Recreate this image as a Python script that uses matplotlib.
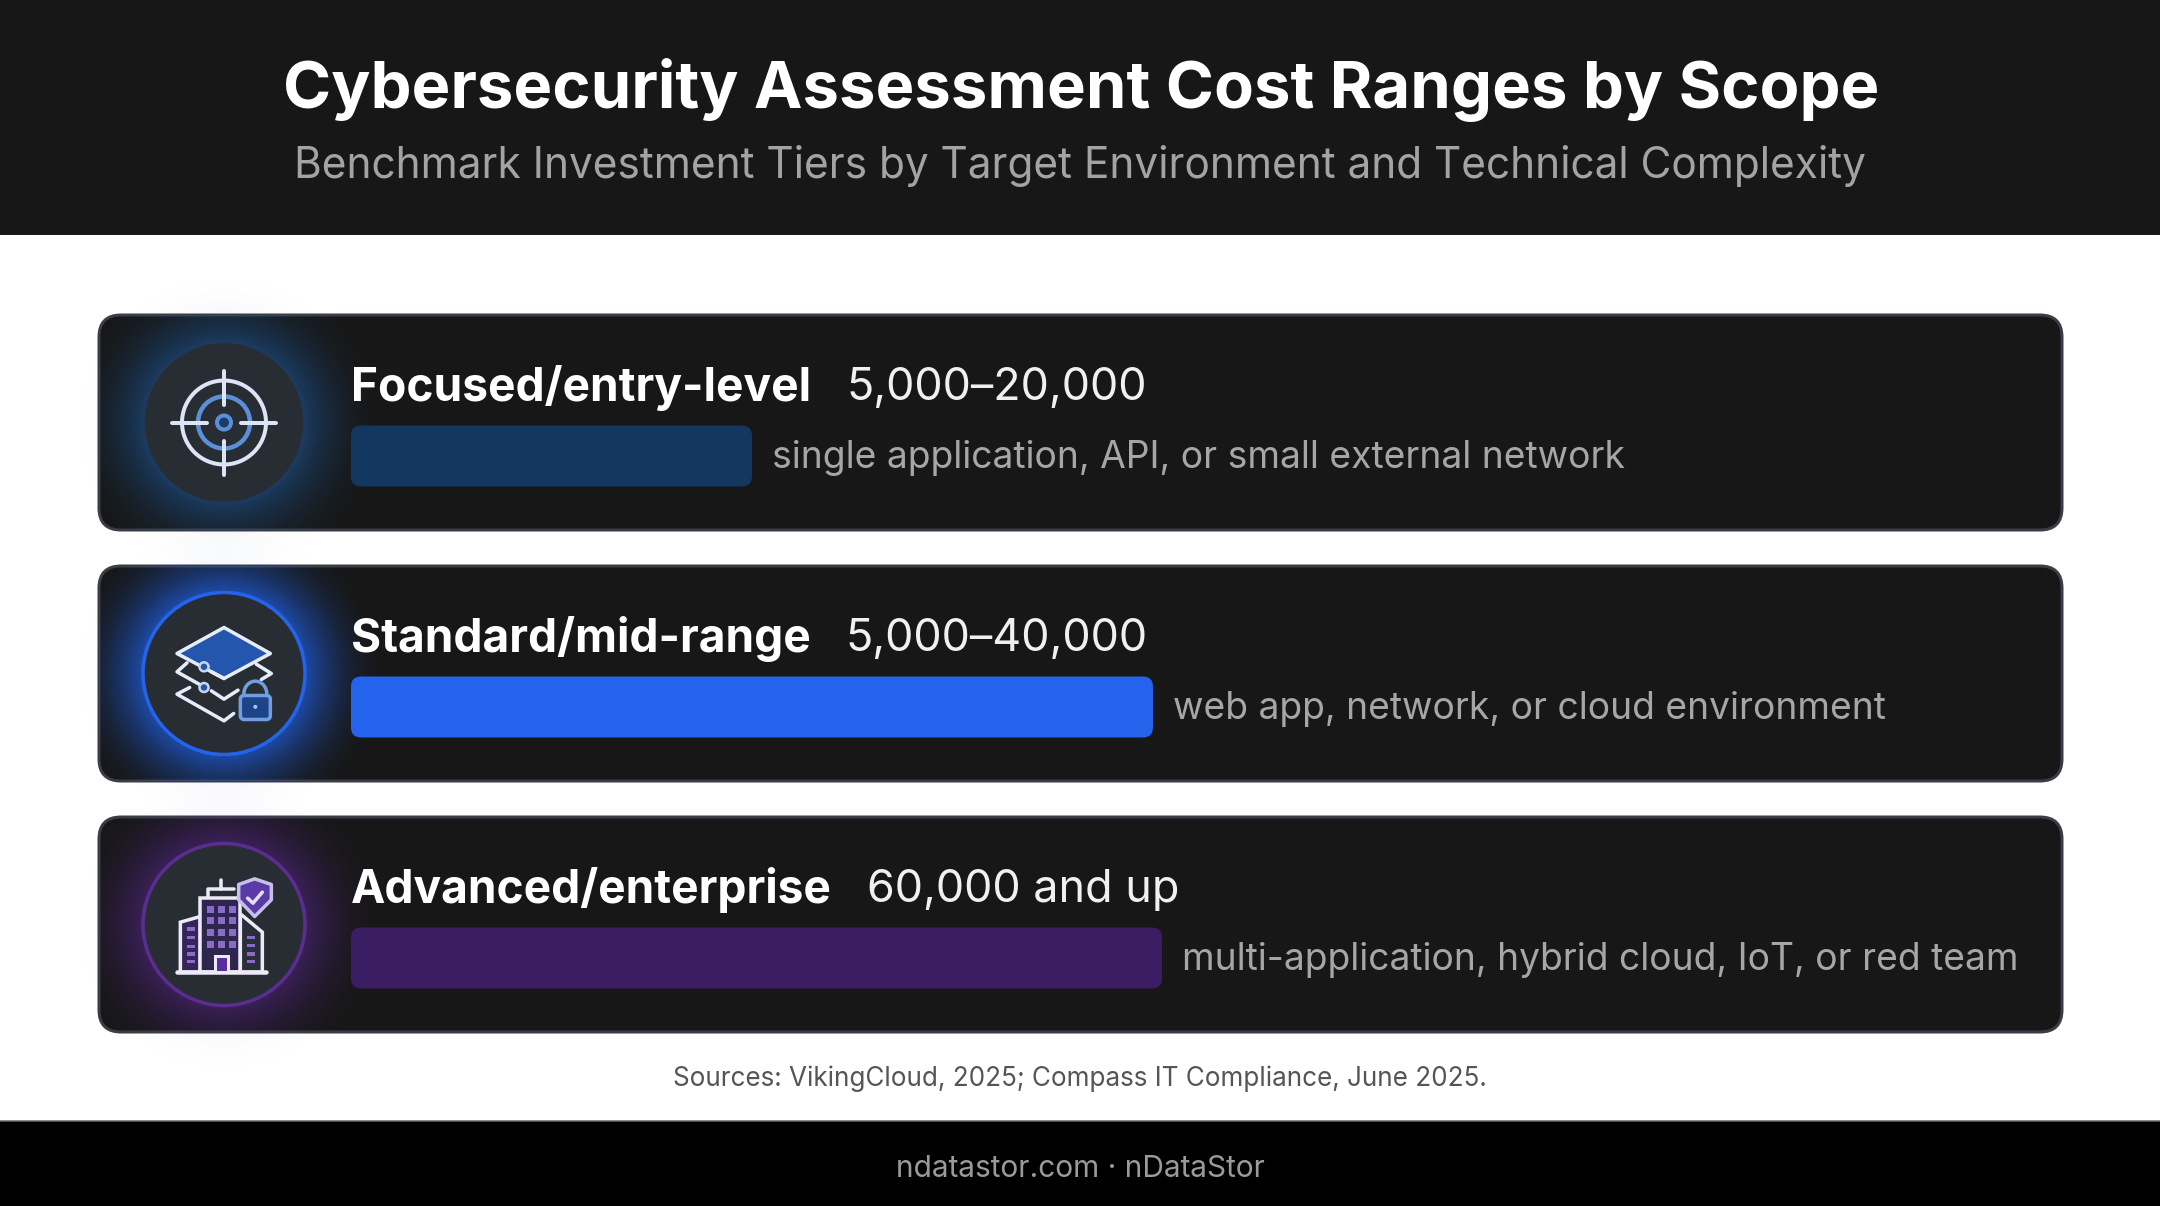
import numpy as np
import matplotlib
matplotlib.use("Agg")
import matplotlib.pyplot as plt
from matplotlib.patches import FancyBboxPatch, Circle, Rectangle, Polygon, Arc
from matplotlib.colors import to_rgb

plt.rcParams['font.family'] = ['Inter', 'DejaVu Sans']

TITLE = "Cybersecurity Assessment Cost Ranges by Scope"
SUBTITLE = "Benchmark Investment Tiers by Target Environment and Technical Complexity"
SOURCES = "Sources: VikingCloud, 2025; Compass IT Compliance, June 2025."
FOOTER = "ndatastor.com · nDataStor"

tiers = ["Focused/entry-level", "Standard/mid-range", "Advanced/enterprise"]
ranges = ["5,000–20,000", "5,000–40,000", "60,000 and up"]
scopes = ["single application, API, or small external network",
          "web app, network, or cloud environment",
          "multi-application, hybrid cloud, IoT, or red team"]
# upper ends of the bars. The third one is open ended, the picture stops it just past 40k
bar_ends = [20000, 40000, 40450]
bar_colors = ["#14375f", "#2463eb", "#3b1d63"]

ring_colors = ["#1d3a5c", "#2563eb", "#5b2d91"]
glow_colors = ["#1d5fa8", "#1f5fe0", "#5f2a9e"]
glow_alpha = [0.5, 0.75, 0.5]
halo_colors = ["#d3dae6", "#cfdcf3", "#dcd7f0"]

W, H = 2160, 1206
CARD_TOPS = [315, 566, 817]
CARD_H = 215
ICON_X = 224
WHITE = "#f4f6fb"

fig = plt.figure(figsize=(W / 100, H / 100), dpi=100, facecolor="white")
ax = fig.add_axes([0, 0, 1, 1])
ax.set_xlim(0, W)
ax.set_ylim(H, 0)
ax.axis("off")


def px(n):
    # line widths below are thought of in pixels
    return n * 72 / 100


def glow(cx, cy, r0, r1, color, alpha, zorder, clip=None):
    y, x = np.mgrid[cy - r1:cy + r1:300j, cx - r1:cx + r1:300j]
    r = np.hypot(x - cx, y - cy)
    fade = np.clip(1 - (r - r0) / (r1 - r0), 0, 1) ** 2
    img = np.zeros(r.shape + (4,))
    img[..., :3] = to_rgb(color)
    img[..., 3] = fade * alpha
    im = ax.imshow(img, extent=(cx - r1, cx + r1, cy + r1, cy - r1), origin="upper",
                   aspect="auto", zorder=zorder, interpolation="bilinear")
    if clip is not None:
        im.set_clip_path(clip)


def line(pts, color=WHITE, lw=4, z=7):
    xs, ys = zip(*pts)
    ax.plot(xs, ys, color=color, lw=px(lw), solid_capstyle="round",
            solid_joinstyle="round", zorder=z)


def target_icon(cx, cy):
    blue = "#5b8fd8"
    ax.add_patch(Circle((cx, cy), 42, fill=False, ec="#dbe5f5", lw=px(4), zorder=7))
    ax.add_patch(Circle((cx, cy), 26, fill=False, ec=blue, lw=px(4.5), zorder=7))
    ax.add_patch(Circle((cx, cy), 7, fc="#1d3c66", ec=blue, lw=px(4), zorder=7))
    line([(cx - 52, cy), (cx - 17, cy)], "#dbe5f5")
    line([(cx + 17, cy), (cx + 52, cy)], "#dbe5f5")
    line([(cx, cy - 52), (cx, cy - 18)], "#dbe5f5")
    line([(cx, cy + 18), (cx, cy + 52)], "#dbe5f5")


def layers_icon(cx, cy):
    def p(a, b):
        return (cx + (a - 403) / 3, cy + (b - 370) / 3)
    ax.add_patch(Polygon([p(403, 232), p(542, 310), p(403, 385), p(262, 310)], closed=True,
                         fc="#2456ae", ec="#e6edfa", lw=px(3.5), joinstyle="round", zorder=7))
    line([p(292, 338), p(262, 365), p(330, 403)], "#e6edfa", 3.5)
    line([p(365, 365), p(403, 385)], "#e6edfa", 3.5)
    line([p(500, 342), p(545, 370), p(515, 388)], "#e6edfa", 3.5)
    line([p(365, 422), p(403, 447), p(445, 420)], "#e6edfa", 3.5)
    line([p(300, 412), p(262, 432), p(403, 512), p(432, 490)], "#e6edfa", 3.5)
    for b in (350, 412):
        ax.add_patch(Circle(p(343, b), 4.5, fc="#2456ae", ec="#c8d8f2", lw=px(2.5), zorder=8))
    # padlock
    ax.add_patch(FancyBboxPatch(p(452, 436), 30, 24, boxstyle="round,pad=0,rounding_size=4",
                                fc="#1e4488", ec="#6f9fe0", lw=px(3.5), zorder=8))
    ax.add_patch(Arc(p(497, 432), 23, 26, theta1=180, theta2=360, ec="#6f9fe0", lw=px(3.5), zorder=8))
    ax.add_patch(Circle(p(497, 470), 2, fc="#a8c4ee", ec="none", zorder=9))


def building_icon(cx, cy):
    def p(a, b):
        return (cx + (a - 403) / 3, cy + (b - 372) / 3)
    edge = "#eceaf6"
    win = "#8a6cc6"
    # left and right wings, then the tower
    ax.add_patch(Polygon([p(272, 515), p(272, 365), p(332, 348), p(332, 515)], closed=True,
                         fc="#33245a", ec=edge, lw=px(3.5), zorder=7))
    ax.add_patch(Polygon([p(452, 515), p(452, 340), p(518, 395), p(518, 515)], closed=True,
                         fc="#2a2e38", ec=edge, lw=px(3.5), zorder=7))
    ax.add_patch(Rectangle(p(332, 292), 40, 74, fc="#2f2650", ec=edge, lw=px(3.5), zorder=7))
    line([p(355, 290), p(355, 265), p(432, 265)], edge, 3.5)
    line([p(395, 238), p(395, 265)], edge, 3.5)
    line([p(262, 515), p(530, 515)], edge, 4.5, 8)
    for a in (363, 395, 428):
        for b in (325, 360, 395, 430):
            ax.add_patch(Rectangle(p(a - 10, b - 10), 7, 7, fc=win, ec="none", zorder=8))
    for b in (385, 410, 437, 460, 482):
        ax.add_patch(Rectangle(p(293, b - 5), 8, 3.5, fc=win, ec="none", zorder=8))
    for b in (410, 435, 460, 482):
        ax.add_patch(Rectangle(p(473, b - 5), 8, 3.5, fc=win, ec="none", zorder=8))
    ax.add_patch(Rectangle(p(375, 465), 13, 16, fc="#5b2d9e", ec=edge, lw=px(3), zorder=8))
    # shield
    ax.add_patch(Polygon([p(495, 235), p(545, 252), p(545, 298), p(495, 348), p(447, 298), p(447, 252)],
                         closed=True, fc="#5a3aa6", ec="#c9bdea", lw=px(3.5),
                         joinstyle="round", zorder=9))
    line([p(474, 293), p(490, 308), p(518, 275)], "#e4def5", 3.5, 10)


# header and footer bands
ax.add_patch(Rectangle((0, 0), W, 235, fc="#171717", ec="none", zorder=1))
ax.add_patch(Rectangle((0, 1121), W, 85, fc="#000000", ec="none", zorder=1))
ax.plot([0, W], [1121, 1121], color="#6a6a6a", lw=px(1.5), zorder=2)

ax.text(W / 2 + 1, 90, TITLE, color="white", fontsize=46.9, fontweight="bold", ha="center", va="center", zorder=3)
ax.text(W / 2, 166, SUBTITLE, color="#a3a3a3", fontsize=30.5, ha="center", va="center", zorder=3)
ax.text(W / 2, 1079, SOURCES, color="#555555", fontsize=18.75, ha="center", va="center", zorder=3)
ax.text(W / 2, 1169, FOOTER, color="#9a9a9a", fontsize=21.5, ha="center", va="center", zorder=3)

icons = [target_icon, layers_icon, building_icon]

for i, top in enumerate(CARD_TOPS):
    cy = top + CARD_H / 2
    # pale halo that leaks out of the card
    glow(ICON_X, cy, 60, 150, halo_colors[i], 0.75, 1)
    card = FancyBboxPatch((99, top), 1963, CARD_H, boxstyle="round,pad=0,rounding_size=22",
                          fc="#171717", ec="#3a3d45", lw=px(3), zorder=2)
    ax.add_patch(card)
    glow(ICON_X, cy, 80, 165, glow_colors[i], glow_alpha[i], 3, clip=card)
    ax.add_patch(Circle((ICON_X, cy), 81, fc="#282c33", ec=ring_colors[i], lw=px(3.5), zorder=5))
    icons[i](ICON_X, cy)

ax.set_xlim(0, W)
ax.set_ylim(H, 0)

# bar panel: one row per card, x in dollars
DOLLARS_PER_PX = 1 / 0.02005
BAR_LEFT = 351
row_px = CARD_TOPS[1] - CARD_TOPS[0]
x_max = 80000
panel_top = 456 - row_px / 2
panel_bot = panel_top + 3 * row_px
panel_w = x_max / DOLLARS_PER_PX
ax_bar = fig.add_axes([BAR_LEFT / W, 1 - panel_bot / H, panel_w / W, (panel_bot - panel_top) / H])
ax_bar.patch.set_alpha(0)
ax_bar.set_zorder(2)
ax_bar.set_xlim(0, x_max)
ax_bar.set_ylim(2.5, -0.5)
ax_bar.axis("off")

rows = np.arange(len(tiers))
bars = ax_bar.barh(rows, bar_ends, height=61 / row_px, color=bar_colors)
radius = 10
for b, c in zip(bars, bar_colors):
    b.set_visible(False)
    ax_bar.add_patch(FancyBboxPatch((b.get_x(), b.get_y()), b.get_width(), b.get_height(),
                                    boxstyle="round,pad=0,rounding_size=%f" % (radius * DOLLARS_PER_PX),
                                    mutation_aspect=(1 / row_px) / DOLLARS_PER_PX,
                                    fc=c, ec="none"))

for i, row in enumerate(rows):
    ax_bar.annotate(scopes[i], xy=(bar_ends[i], row), xytext=(px(20), px(-2)), textcoords="offset points",
                    color="#a6a6a6", fontsize=26.8, va="center", ha="left")

renderer = fig.canvas.get_renderer()
for i, top in enumerate(CARD_TOPS):
    y = top + 73
    name = ax.text(351, y, tiers[i], color="white", fontsize=33.2, fontweight="bold", va="center", zorder=9)
    end = name.get_window_extent(renderer).x1
    ax.text(end + 35, y, ranges[i], color="#f0f0f0", fontsize=32.3, va="center", zorder=9)

fig.savefig("out.png", dpi=100)
